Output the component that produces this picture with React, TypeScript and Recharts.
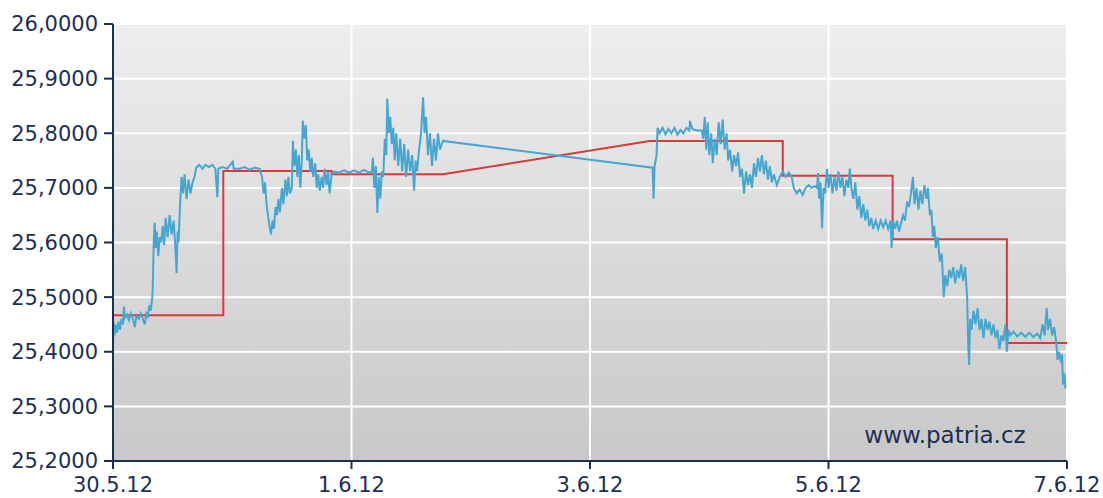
import { CartesianGrid, Line, LineChart, XAxis, YAxis } from "recharts";

// time axis in hours from 30.5.12 00:00
const xTicks = [0, 48, 96, 144, 192];
const xTickLabels = ["30.5.12", "1.6.12", "3.6.12", "5.6.12", "7.6.12"];
const yTicks = [25.2, 25.3, 25.4, 25.5, 25.6, 25.7, 25.8, 25.9, 26.0];

// intraday quote, [hour, value]
const session1: [number, number][] = [
  [0.0, 25.41], [0.1, 25.455], [0.3, 25.43], [0.5, 25.45], [0.8, 25.435], [1.1, 25.455],
  [1.4, 25.44], [1.7, 25.46], [2.0, 25.45], [2.2, 25.482], [2.4, 25.462], [2.8, 25.468],
  [3.2, 25.458], [3.6, 25.47], [4.0, 25.46], [4.4, 25.445], [4.7, 25.465], [5.2, 25.46],
  [5.6, 25.47], [6.0, 25.46], [6.4, 25.45], [6.7, 25.47], [7.0, 25.465], [7.3, 25.485],
  [7.6, 25.475], [7.9, 25.5], [8.0, 25.52], [8.2, 25.6], [8.4, 25.636], [8.6, 25.59],
  [8.8, 25.62], [9.1, 25.575], [9.4, 25.61], [9.7, 25.6], [10.0, 25.63], [10.3, 25.595],
  [10.6, 25.645], [11.0, 25.61], [11.4, 25.65], [11.8, 25.615], [12.2, 25.64], [12.5, 25.6],
  [12.8, 25.544], [13.0, 25.62], [13.2, 25.6], [13.5, 25.67], [13.8, 25.72], [14.1, 25.69],
  [14.4, 25.725], [14.8, 25.68], [15.2, 25.715], [15.6, 25.69], [16.0, 25.71], [16.4, 25.72],
  [16.8, 25.738], [17.4, 25.742], [18.0, 25.735], [18.6, 25.742], [19.3, 25.738], [20.0, 25.742],
  [20.6, 25.735], [21.0, 25.683], [21.2, 25.735], [22.0, 25.738], [23.0, 25.735], [24.1, 25.748],
  [24.3, 25.735], [25.5, 25.735], [26.5, 25.738], [27.5, 25.733], [28.5, 25.737], [29.5, 25.735],
];

const session2: [number, number][] = [
  [30.0, 25.72], [30.3, 25.69], [30.6, 25.71], [30.9, 25.67], [31.2, 25.65], [31.5, 25.63],
  [31.8, 25.615], [32.1, 25.64], [32.4, 25.625], [32.7, 25.665], [33.0, 25.65], [33.3, 25.68],
  [33.6, 25.655], [34.0, 25.7], [34.3, 25.67], [34.7, 25.715], [35.0, 25.685], [35.3, 25.72],
  [35.6, 25.69], [36.0, 25.7], [36.2, 25.786], [36.5, 25.74], [36.8, 25.77], [37.1, 25.72],
  [37.4, 25.76], [37.7, 25.7], [38.0, 25.75], [38.2, 25.823], [38.5, 25.79], [38.8, 25.815],
  [39.1, 25.75], [39.4, 25.77], [39.7, 25.73], [40.0, 25.755], [40.3, 25.72], [40.7, 25.745],
  [41.0, 25.7], [41.3, 25.725], [41.6, 25.695], [42.0, 25.72], [42.3, 25.7], [42.6, 25.735],
  [43.0, 25.705], [43.3, 25.73], [43.6, 25.69], [44.0, 25.725], [44.5, 25.73], [45.5, 25.728],
  [46.5, 25.732], [47.5, 25.728], [48.5, 25.732], [49.5, 25.728], [50.5, 25.733], [51.5, 25.728],
  [52.1, 25.73], [52.3, 25.755], [52.6, 25.7], [52.9, 25.74], [53.2, 25.654], [53.5, 25.72],
  [53.8, 25.68], [54.1, 25.73], [54.4, 25.72], [54.7, 25.79], [55.0, 25.76], [55.2, 25.863],
  [55.5, 25.8], [55.8, 25.83], [56.1, 25.78], [56.4, 25.81], [56.7, 25.75], [57.0, 25.8],
  [57.4, 25.74], [57.8, 25.79], [58.2, 25.73], [58.6, 25.78], [59.0, 25.72], [59.4, 25.77],
  [59.8, 25.73], [60.2, 25.76], [60.6, 25.695], [60.9, 25.75], [61.2, 25.73], [61.6, 25.77],
  [62.0, 25.8], [62.4, 25.866], [62.7, 25.8], [63.0, 25.83], [63.4, 25.76], [63.8, 25.8],
  [64.2, 25.74], [64.6, 25.79], [65.0, 25.75], [65.4, 25.8], [65.8, 25.77], [66.4, 25.786],
];

const session3: [number, number][] = [
  [108.6, 25.737], [108.8, 25.68], [109.0, 25.74], [109.4, 25.76], [109.6, 25.81], [110.0, 25.8],
  [110.6, 25.81], [111.2, 25.798], [111.8, 25.808], [112.4, 25.8], [113.0, 25.81], [113.6, 25.797],
  [114.2, 25.806], [114.8, 25.8], [115.4, 25.81], [116.0, 25.805], [116.1, 25.823], [116.6, 25.808],
  [117.5, 25.805], [118.5, 25.805], [118.8, 25.79], [119.1, 25.83], [119.4, 25.77], [119.7, 25.82],
  [120.0, 25.76], [120.4, 25.8], [120.7, 25.745], [121.1, 25.79], [121.5, 25.76], [121.9, 25.82],
  [122.3, 25.78], [122.7, 25.825], [123.1, 25.77], [123.5, 25.8], [123.8, 25.75], [124.2, 25.77],
  [124.6, 25.73], [125.0, 25.76], [125.4, 25.74], [125.8, 25.765], [126.2, 25.72], [126.6, 25.735],
  [127.0, 25.69], [127.4, 25.73], [127.8, 25.705], [128.2, 25.725], [128.6, 25.7], [129.0, 25.745],
  [129.4, 25.72], [129.8, 25.755], [130.2, 25.73], [130.6, 25.76], [131.0, 25.725], [131.4, 25.75],
  [131.8, 25.715], [132.2, 25.74], [132.6, 25.71], [133.0, 25.725], [133.6, 25.705], [134.2, 25.72],
  [134.8, 25.73], [135.4, 25.72], [136.0, 25.728], [136.6, 25.72], [137.0, 25.7], [137.6, 25.69],
  [138.2, 25.697], [138.8, 25.687], [139.4, 25.7], [140.0, 25.705], [140.6, 25.7], [141.2, 25.703],
  [141.7, 25.7],
];

const session4: [number, number][] = [
  [141.9, 25.727], [142.1, 25.68], [142.4, 25.71], [142.7, 25.626], [143.0, 25.7], [143.3, 25.69],
  [143.7, 25.735], [144.0, 25.7], [144.4, 25.725], [144.8, 25.69], [145.2, 25.72], [145.6, 25.695],
  [146.0, 25.73], [146.4, 25.7], [146.8, 25.72], [147.2, 25.685], [147.6, 25.715], [148.0, 25.7],
  [148.3, 25.736], [148.6, 25.7], [149.0, 25.68], [149.4, 25.71], [149.8, 25.66], [150.2, 25.685],
  [150.6, 25.645], [151.0, 25.67], [151.4, 25.64], [151.8, 25.66], [152.2, 25.63], [152.6, 25.645],
  [153.0, 25.625], [153.5, 25.64], [154.0, 25.625], [154.5, 25.64], [155.0, 25.628], [155.5, 25.64],
  [156.0, 25.625], [156.5, 25.64], [156.7, 25.59], [157.0, 25.64], [157.4, 25.625], [157.8, 25.64],
  [158.2, 25.62], [158.6, 25.635], [159.0, 25.65], [159.4, 25.64], [159.8, 25.675], [160.2, 25.665],
  [160.6, 25.69], [161.0, 25.72], [161.3, 25.67], [161.7, 25.7], [162.1, 25.66], [162.5, 25.695],
  [162.9, 25.67], [163.3, 25.705], [163.7, 25.68], [164.0, 25.7], [164.4, 25.65], [164.7, 25.66],
  [165.0, 25.61], [165.3, 25.63],
];

const session5: [number, number][] = [
  [165.6, 25.59], [166.0, 25.61], [166.4, 25.565], [166.8, 25.58], [167.2, 25.5], [167.5, 25.54],
  [167.9, 25.52], [168.3, 25.55], [168.7, 25.535], [169.1, 25.555], [169.5, 25.525], [169.9, 25.55],
  [170.3, 25.535], [170.7, 25.56], [171.1, 25.53], [171.5, 25.555], [171.9, 25.5], [172.1, 25.42],
  [172.3, 25.376], [172.5, 25.46], [172.8, 25.44], [173.2, 25.475], [173.6, 25.45], [174.0, 25.48],
  [174.4, 25.44], [174.8, 25.46], [175.2, 25.425], [175.6, 25.46], [176.0, 25.44], [176.4, 25.455],
  [176.8, 25.43], [177.2, 25.45], [177.6, 25.425], [178.0, 25.44], [178.4, 25.405], [178.8, 25.43],
  [179.2, 25.42], [179.6, 25.45], [179.9, 25.4], [180.2, 25.44], [180.6, 25.43], [181.2, 25.437],
  [182.0, 25.428], [182.8, 25.435], [183.6, 25.427], [184.4, 25.435], [185.2, 25.427], [186.0, 25.433],
  [186.6, 25.425], [187.1, 25.45], [187.5, 25.43], [187.9, 25.48], [188.2, 25.44], [188.6, 25.46],
  [189.0, 25.43], [189.4, 25.445], [189.8, 25.42], [190.1, 25.385], [190.4, 25.4], [190.8, 25.38],
  [191.0, 25.395], [191.2, 25.34], [191.5, 25.36], [191.7, 25.333],
];

// previous close reference, [hour, value]
const closeLine: [number, number][] = [
  [0, 25.467], [22.2, 25.467], [22.2, 25.731], [44.0, 25.731], [44.0, 25.725], [66.4, 25.725],
  [108.0, 25.786], [134.8, 25.786], [134.8, 25.722], [156.9, 25.722], [156.9, 25.606],
  [179.9, 25.606], [179.9, 25.416], [192, 25.416],
];

const toRows = (pts: [number, number][]) => pts.map(([t, v]) => ({ t, v }));
const quoteData = toRows([...session1, ...session2, ...session3, ...session4, ...session5]);
const closeData = toRows(closeLine);

const NAVY = "#1b2f55";
const FONT = "DejaVu Sans, Verdana, sans-serif";

export default function App() {
  return (
    <div style={{ position: "absolute", left: 0, top: 0, width: 1103, height: 498, background: "#fff" }}>
      <LineChart width={1103} height={498} margin={{ top: 24, right: 36, bottom: 0, left: 0 }}>
        <defs>
          <linearGradient id="plot-bg" x1="0" y1="0" x2="0" y2="1">
            <stop offset="0%" stopColor="#eeeeee" />
            <stop offset="100%" stopColor="#c8c8c8" />
          </linearGradient>
        </defs>
        <CartesianGrid fill="url(#plot-bg)" fillOpacity={1} stroke="#ffffff" strokeWidth={2} />
        <XAxis
          type="number"
          dataKey="t"
          domain={[0, 192]}
          ticks={xTicks}
          interval={0}
          tickFormatter={(v) => xTickLabels[xTicks.indexOf(v)]}
          height={37}
          tickSize={8}
          tickMargin={8}
          axisLine={{ stroke: NAVY, strokeWidth: 2 }}
          tickLine={{ stroke: NAVY, strokeWidth: 2 }}
          tick={{ fill: NAVY, fontSize: 21, fontFamily: FONT }}
        />
        <YAxis
          type="number"
          domain={[25.2, 26]}
          ticks={yTicks}
          interval={0}
          width={113}
          tickSize={9}
          tickMargin={6}
          tickFormatter={(v) => v.toFixed(4).replace(".", ",")}
          axisLine={{ stroke: NAVY, strokeWidth: 2 }}
          tickLine={{ stroke: NAVY, strokeWidth: 2 }}
          tick={{ fill: NAVY, fontSize: 21, fontFamily: FONT }}
        />
        <Line
          data={closeData}
          dataKey="v"
          type="linear"
          stroke="#d63b3b"
          strokeWidth={2}
          dot={false}
          activeDot={false}
          isAnimationActive={false}
        />
        <Line
          data={quoteData}
          dataKey="v"
          type="linear"
          stroke="#45a7d1"
          strokeWidth={2}
          dot={false}
          activeDot={false}
          isAnimationActive={false}
        />
      </LineChart>
      <svg width={1103} height={498} style={{ position: "absolute", left: 0, top: 0, pointerEvents: "none" }}>
        <text x={945} y={443} textAnchor="middle" fill={NAVY} fontSize={23} fontFamily={FONT}>
          www.patria.cz
        </text>
      </svg>
    </div>
  );
}
